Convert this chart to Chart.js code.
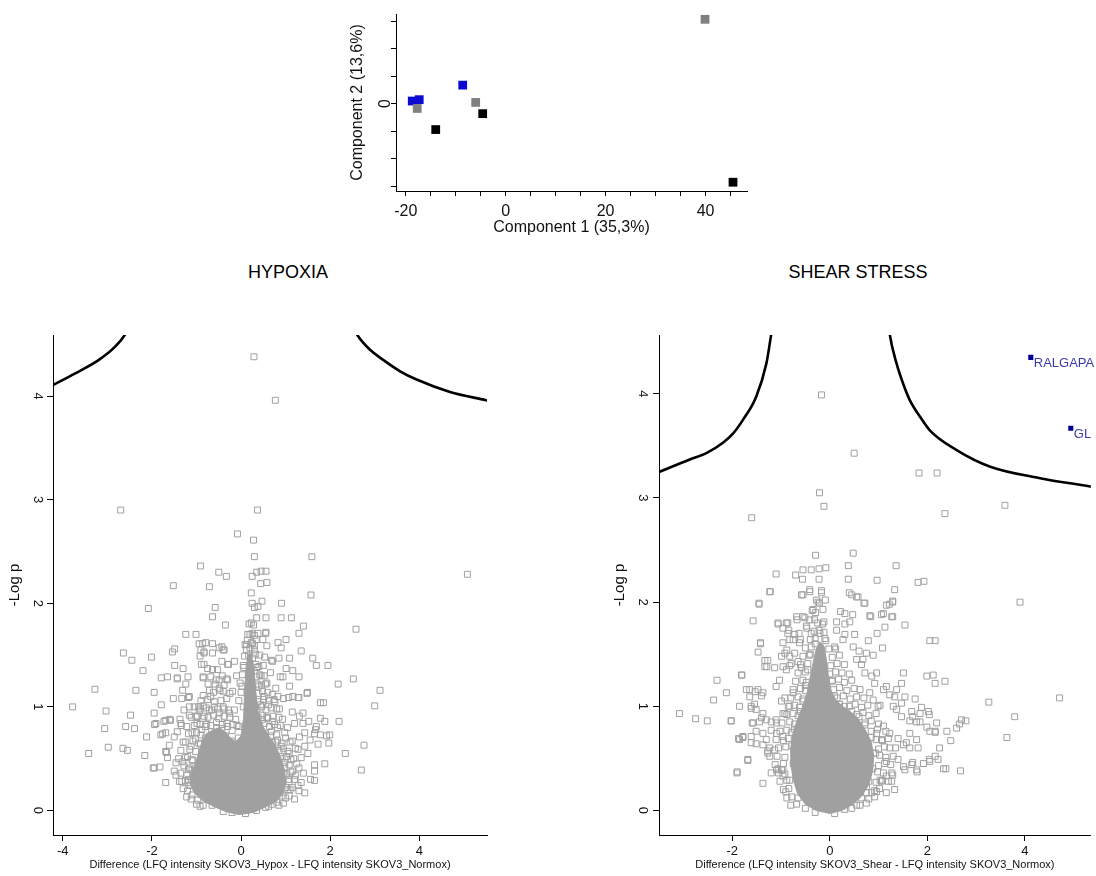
<!DOCTYPE html>
<html>
<head>
<meta charset="utf-8">
<script src="https://cdn.jsdelivr.net/npm/chart.js@4.4.1/dist/chart.umd.min.js"></script>
<style>
	html, body { margin: 0; padding: 0; background: #fff; width: 1096px; height: 876px; overflow: hidden; }
	canvas { position: absolute; }
	.panel-title { position: absolute; top: 262px; width: 300px; line-height: 20px; text-align: center;
		font: 18px "Liberation Sans", Arial, sans-serif; color: #000; }
</style>
</head>
<body>
<canvas id="pcaChart" width="420" height="240" style="left:340px;top:0"></canvas>
<div class="panel-title" style="left:138px">HYPOXIA</div>
<div class="panel-title" style="left:708px">SHEAR STRESS</div>
<canvas id="hypoxChart" width="500" height="556" style="left:0;top:320px"></canvas>
<canvas id="shearChart" width="496" height="556" style="left:600px;top:320px"></canvas>
<script>
/* ==========================
   DATA
========================== */

// PCA scores (component 1, component 2)
const pcaBlue = [[-18.7, 1.0], [-17.3, 1.5], [-8.6, 6.8]];
const pcaGray = [[-17.7, -1.7], [-6.0, 0.5], [39.9, 30.8]];
const pcaBlack = [[-14.0, -9.4], [-4.6, -3.6], [45.5, -28.6]];
const pcaXTicks = [-20, -15, -10, -5, 0, 5, 10, 15, 20, 25, 30, 35, 40, 45];
const pcaYTicks = [-30, -20, -10, 0, 10, 20, 30];

// volcano ticks
const hypoxXTicks = [-4, -2, 0, 2, 4];
const shearXTicks = [-2, 0, 2, 4];
const volcanoYTicks = [0, 1, 2, 3, 4];

// Hypoxia vs Normoxia: difference, -log p
const hypoxPoints = [
	[0.29,4.38],[0.77,3.96],[-2.70,2.90],[0.37,2.90],[-0.08,2.67],[0.28,2.61],[0.30,2.45],[1.59,2.45],
	[-0.91,2.36],[-0.50,2.30],[-0.33,2.26],[0.25,2.26],[0.35,2.30],[0.45,2.31],[0.56,2.31],[5.08,2.28],
	[-1.52,2.17],[-0.71,2.16],[0.44,2.19],[0.58,2.20],[1.57,2.08],[0.23,2.10],[-2.08,1.95],[-0.58,1.96],
	[-0.64,1.87],[0.25,2.00],[0.30,1.96],[0.38,1.97],[0.47,2.02],[0.91,2.00],[-0.35,1.79],[0.23,1.81],
	[0.35,1.86],[0.56,1.86],[0.90,1.86],[1.13,1.86],[1.40,1.78],[2.58,1.75],[-1.24,1.70],[-1.01,1.70],
	[1.30,1.71],[0.15,1.70],[0.25,1.71],[0.38,1.71],[0.56,1.72],[1.01,1.65],[0.83,1.62],[-0.86,1.61],
	[-0.79,1.62],[0.14,1.64],[0.23,1.62],[0.34,1.65],[0.49,1.65],[0.58,1.59],[-1.49,1.56],[-1.54,1.53],
	[-0.43,1.58],[-0.38,1.55],[-0.90,1.55],[-0.83,1.52],[0.90,1.57],[1.35,1.54],[-2.64,1.52],[-2.45,1.45],
	[-2.01,1.48],[-2.20,1.35],[-0.92,1.49],[-0.64,1.52],[0.17,1.50],[0.26,1.47],[0.53,1.48],[0.68,1.45],
	[0.85,1.47],[1.09,1.47],[1.61,1.47],[1.69,1.40],[1.95,1.40],[-1.49,1.40],[-1.30,1.37],[-0.83,1.41],
	[-0.75,1.37],[-0.30,1.41],[-0.15,1.44],[1.01,1.37],[1.16,1.35],[1.30,1.29],[2.18,1.22],[2.52,1.27],
	[3.12,1.16],[3.00,1.01],[-1.79,1.28],[-1.65,1.29],[-1.43,1.28],[-1.19,1.29],[-0.85,1.29],[-0.68,1.29],
	[-0.49,1.26],[-0.32,1.27],[0.88,1.29],[-3.28,1.17],[-2.36,1.16],[-1.95,1.14],[-1.52,1.08],[-1.31,1.16],
	[-1.16,1.10],[-0.85,1.11],[-0.71,1.16],[-0.47,1.16],[-0.19,1.15],[1.09,1.20],[1.16,1.10],[1.30,1.09],
	[1.49,1.14],[1.78,1.04],[1.85,1.04],[1.07,1.09],[0.83,1.10],[0.94,1.29],[0.71,1.44],[0.55,1.71],
	[-3.78,1.00],[-3.03,0.96],[-1.79,1.02],[-2.48,0.92],[-1.95,0.94],[-1.91,0.84],[-1.73,0.86],[-1.60,0.88],
	[-1.37,0.88],[-1.34,0.82],[1.39,0.94],[1.52,0.86],[1.78,0.89],[1.88,0.86],[2.20,0.86],[1.39,0.84],
	[1.67,0.78],[1.65,0.74],[1.78,0.73],[1.99,0.73],[1.31,0.91],[1.15,0.95],[1.20,0.84],[-3.06,0.79],
	[-2.59,0.81],[-2.39,0.79],[-1.94,0.83],[-2.12,0.71],[-1.76,0.74],[-1.80,0.73],[-1.69,0.75],[-2.98,0.61],
	[-2.65,0.60],[-2.55,0.58],[-3.42,0.55],[-2.16,0.53],[-1.97,0.41],[-1.82,0.42],[-1.69,0.27],[-1.67,0.56],
	[-1.61,0.63],[-1.69,0.57],[-1.65,0.51],[-1.46,0.46],[-1.46,0.34],[-1.95,0.41],[-0.71,0.10],[-0.56,0.07],
	[-1.43,1.27],[-1.24,1.22],[-1.33,1.08],[-1.18,1.09],[-1.58,0.87],[-1.35,0.84],[-1.43,0.76],[-1.69,0.87],
	[-1.50,0.71],[-1.31,0.47],[-1.50,0.38],[-1.33,0.28],[-1.18,0.30],[-1.10,0.39],[-0.94,1.61],[-0.83,1.53],
	[-0.89,1.41],[-0.85,1.28],[-0.74,1.22],[-0.68,1.10],[-0.53,1.36],[-0.43,1.44],[-0.49,1.57],[-0.40,1.55],
	[-0.28,1.41],[-0.30,1.26],[-0.49,1.18],[-0.56,1.26],[-0.64,1.36],[-0.64,1.61],[-0.10,1.30],[-0.95,1.00],
	[-1.16,1.00],[-1.01,0.91],[-0.85,1.01],[2.76,0.63],[2.34,0.55],[1.88,0.45],[1.65,0.44],[1.65,0.38],
	[2.70,0.39],[1.56,0.30],[1.65,0.29],[1.43,0.17],[1.28,0.24],[1.50,0.55],[1.43,0.62],[1.31,0.71],
	[1.43,0.75],[1.55,0.68],[1.73,0.64],[1.97,0.65],[1.92,0.72],[1.69,0.81],[1.48,1.13],[1.28,1.09],
	[-1.28,0.97],[-1.16,0.92],[-1.05,1.00],[-0.94,0.96],[-0.83,0.91],[-0.71,0.97],[-0.60,1.00],[-0.49,0.94],
	[-0.38,0.98],[-0.26,0.94],[-0.15,0.97],[-1.22,0.81],[-1.10,0.75],[-0.99,0.84],[-0.88,0.78],[-0.77,0.83],
	[-0.66,0.76],[-0.55,0.85],[-0.43,0.79],[-0.32,0.84],[-0.20,0.77],[-0.09,0.82],[-1.25,0.66],[-1.12,0.62],
	[-1.02,0.69],[-0.91,0.64],[-0.80,0.70],[-0.69,0.66],[-0.58,0.71],[-0.47,0.68],[-0.35,0.72],[-0.22,0.67],
	[-0.06,0.70],[-1.20,0.52],[-1.08,0.48],[-1.18,0.40],[-1.06,0.34],[-1.14,0.24],[-1.10,0.15],[-0.97,0.10],
	[-0.85,0.05],[0.05,1.00],[0.02,1.20],[0.06,1.38],[0.12,1.55],[0.30,1.55],[0.36,1.38],[0.40,1.20],
	[0.44,1.02],[0.48,0.88],[0.09,1.60],[0.20,1.57],[0.45,1.30],[0.55,1.22],[0.66,1.33],[0.78,1.18],
	[0.52,1.10],[0.62,1.02],[0.74,1.07],[0.86,0.98],[0.95,1.08],[0.58,0.90],[0.70,0.86],[0.82,0.80],
	[0.93,0.88],[1.04,0.80],[0.66,0.72],[0.78,0.66],[0.90,0.62],[1.00,0.70],[1.10,0.66],[0.88,0.52],
	[0.98,0.46],[1.08,0.55],[1.18,0.50],[0.96,0.36],[1.06,0.30],[1.16,0.38],[1.00,0.22],[0.92,0.14],
	[1.10,0.20],[0.80,0.08],[0.62,0.04],[1.22,0.60],[1.25,0.45],[-0.40,-0.01],[-0.20,-0.02],[0.10,-0.03],
	[0.35,0.00],[0.55,0.03],[-0.65,0.05],
	[-1.00,0.06],[-0.92,0.04],[0.70,0.06],[0.85,0.05],[0.95,0.07],[-1.22,0.13],[-1.12,0.11],[1.00,0.12],
	[1.08,0.14],[1.20,0.11],[-1.30,0.21],[-1.20,0.19],[1.05,0.20],[1.15,0.22],[1.30,0.19],[-1.38,0.28],
	[-1.25,0.29],[-1.18,0.27],[1.08,0.28],[1.20,0.30],[1.35,0.27],[-1.35,0.36],[-1.22,0.34],[1.02,0.35],
	[1.12,0.37],[1.22,0.34],[1.40,0.36],[-1.28,0.43],[-1.15,0.41],[0.98,0.42],[1.08,0.44],[1.30,0.41],
	[-1.40,0.50],[-1.25,0.51],[-1.10,0.49],[0.92,0.50],[1.02,0.52],[1.12,0.49],[1.35,0.51],[-1.35,0.58],
	[-1.15,0.59],[-1.02,0.57],[0.85,0.58],[0.95,0.60],[1.05,0.57],[1.28,0.59],[-1.30,0.66],[-1.08,0.67],
	[-0.95,0.65],[0.70,0.66],[0.82,0.68],[0.92,0.65],[1.15,0.67],[-1.18,0.74],[-1.00,0.75],[-0.90,0.73],
	[0.55,0.74],[0.68,0.76],[0.80,0.73],[0.98,0.75],[-1.05,0.82],[-0.92,0.83],[-0.80,0.81],[-0.68,0.82],
	[-0.55,0.80],[-0.42,0.83],[-0.30,0.81],[-0.18,0.83],[-0.05,0.81],[0.42,0.82],[0.52,0.84],[0.64,0.81],
	[0.75,0.83],[0.88,0.82],[-1.12,0.90],[-0.98,0.91],[-0.86,0.89],[-0.74,0.90],[-0.62,0.92],[-0.50,0.89],
	[-0.38,0.91],[-0.25,0.90],[-0.12,0.88],[0.38,0.90],[0.48,0.92],[0.60,0.89],[0.72,0.91],[0.85,0.90],
	[-0.92,0.98],[-0.78,0.99],[-0.66,0.97],[-0.52,0.98],[-0.40,1.00],[-0.28,0.97],[0.36,0.98],[0.46,1.00],
	[0.56,0.97],[0.68,0.99],[0.80,0.98],[-0.90,1.06],[-0.75,1.07],[-0.60,1.05],[-0.45,1.06],[-0.32,1.08],
	[-0.05,1.06],[0.38,1.05],[0.50,1.07],[0.62,1.06],[0.76,1.05],[-0.62,1.14],[-0.40,1.15],[-0.25,1.13],
	[0.00,1.14],[0.38,1.13],[0.48,1.15],[0.60,1.14],[0.70,1.12],[-0.58,1.22],[-0.38,1.21],[-0.02,1.23],
	[0.36,1.22],[0.46,1.21],[0.58,1.23],[-0.42,1.30],[0.03,1.31],[0.35,1.29],[0.42,1.31],[0.52,1.30],
	[0.05,1.40],[0.33,1.41],[0.40,1.39],[0.50,1.40],[0.08,1.49],[0.32,1.51],[0.42,1.50],[0.12,1.60],
	[0.26,1.61],[0.30,1.59],[0.20,1.70],[0.30,1.69],[0.18,1.80],[0.28,1.79]
];
// saturated centre of the hypoxia cloud
const hypoxCore = [
	[-0.05,-0.04],[-0.35,-0.01],[-0.62,0.04],[-0.88,0.10],[-1.05,0.17],[-1.15,0.26],[-1.12,0.36],
	[-1.02,0.46],[-0.95,0.56],[-0.88,0.66],[-0.78,0.74],[-0.62,0.78],[-0.48,0.80],[-0.36,0.76],
	[-0.24,0.70],[-0.12,0.66],[0.00,0.72],[0.06,0.90],[0.08,1.15],[0.11,1.35],[0.15,1.50],[0.22,1.52],
	[0.29,1.38],[0.33,1.15],[0.38,0.95],[0.48,0.82],[0.62,0.72],[0.78,0.62],[0.90,0.50],[0.98,0.38],
	[1.00,0.26],[0.94,0.16],[0.80,0.09],[0.58,0.04],[0.28,-0.02],[-0.05,-0.04]
];
const hypoxCurveLeft = [[-4.25,4.10],[-3.72,4.22],[-3.19,4.35],[-2.82,4.48],[-2.61,4.59],[-2.53,4.66]];
const hypoxCurveRight = [[2.53,4.66],[2.61,4.59],[2.89,4.45],[3.19,4.35],[3.57,4.24],[3.94,4.16],[4.69,4.04],[5.50,3.96],[5.60,3.95]];

// Shear stress vs Normoxia: difference, -log p
const shearPoints = [
	[-0.17,3.99],[0.50,3.43],[1.83,3.24],[2.20,3.24],[-0.21,3.05],[-0.12,2.92],[-1.60,2.81],[2.36,2.85],
	[3.59,2.93],[-0.29,2.45],[0.48,2.47],[-1.10,2.27],[-0.70,2.26],[-0.55,2.31],[-0.38,2.31],[-0.22,2.32],
	[-0.08,2.33],[0.38,2.35],[1.36,2.35],[-0.56,2.22],[-0.22,2.22],[0.38,2.22],[0.97,2.21],[1.81,2.19],
	[1.93,2.20],[-1.22,2.10],[-0.58,2.07],[-0.41,2.12],[-0.17,2.11],[-0.09,2.02],[-0.24,2.00],[0.40,2.09],
	[0.58,2.05],[0.72,1.99],[1.33,2.12],[-1.45,1.99],[1.22,1.98],[1.29,2.01],[-0.36,1.92],[-0.29,1.90],
	[0.22,1.91],[0.31,1.89],[0.47,1.88],[0.84,1.86],[1.06,1.88],[1.29,1.86],[-1.57,1.82],[-1.06,1.80],
	[-0.86,1.80],[-0.67,1.83],[-0.51,1.85],[-0.12,1.81],[0.14,1.81],[0.31,1.79],[1.54,1.78],[1.13,1.76],
	[0.97,1.70],[0.79,1.63],[2.05,1.63],[2.16,1.63],[-1.42,1.60],[-1.47,1.52],[-0.96,1.75],[-0.86,1.70],
	[-0.75,1.64],[-0.63,1.70],[-0.60,1.64],[-0.47,1.75],[-0.38,1.70],[0.14,1.73],[0.31,1.69],[0.12,1.55],
	[0.27,1.64],[0.48,1.57],[1.08,1.56],[0.89,1.49],[0.68,1.45],[-1.33,1.44],[-1.29,1.38],[-0.96,1.38],
	[-0.82,1.39],[-1.81,1.30],[-1.71,1.16],[-1.64,1.09],[-1.47,1.16],[-1.40,1.10],[-1.85,1.00],[-1.61,0.98],
	[-1.54,1.02],[-2.02,0.86],[-1.85,0.68],[-1.78,0.71],[-1.68,0.49],[-1.90,0.37],[-1.37,0.26],[-1.20,0.36],
	[-1.06,0.40],[-0.96,0.39],[-0.90,0.18],[-1.10,0.87],[-1.20,0.77],[-1.30,0.68],[-1.27,0.55],[-1.13,0.58],
	[-0.99,1.05],[-0.92,0.93],[-1.40,0.89],[-1.37,0.93],[-1.59,0.84],[-1.51,0.76],[-1.37,0.74],[-1.23,0.60],
	[-1.10,1.19],[-1.03,1.25],[-0.82,1.48],[-0.72,1.51],[-0.65,1.43],[-0.58,1.37],[-0.92,1.51],[-0.88,1.54],
	[1.51,1.32],[1.47,1.22],[1.99,1.29],[2.12,1.30],[2.16,1.22],[2.36,1.24],[1.75,1.07],[1.88,0.99],
	[2.02,0.95],[1.70,0.90],[1.64,0.86],[1.78,0.85],[1.99,0.80],[2.16,0.75],[1.64,0.74],[1.78,0.68],
	[1.51,0.63],[1.64,0.60],[1.81,0.60],[1.40,0.49],[1.51,0.42],[1.70,0.46],[1.78,0.39],[1.92,0.45],
	[2.05,0.47],[2.22,0.49],[1.33,0.20],[0.96,0.18],[0.75,0.17],[0.55,0.05],[1.06,0.28],[1.16,0.33],
	[1.27,0.36],[0.96,0.74],[1.06,0.68],[1.23,0.60],[1.37,0.97],[1.47,0.90],[1.54,1.09],[0.82,1.13],
	[0.89,1.06],[0.99,1.00],[1.16,1.19],[1.33,1.09],[0.72,1.32],[0.86,1.29],[0.96,1.32],[0.55,1.45],
	[0.65,1.40],[0.75,1.51],[3.90,2.00],[4.71,1.08],[3.26,1.04],[3.79,0.90],[3.63,0.70],[1.27,1.86],
	[1.85,0.93],[2.04,0.92],[2.19,0.84],[2.40,0.76],[2.48,0.67],[2.60,0.79],[2.66,0.83],[2.70,0.87],
	[2.79,0.86],[2.33,0.40],[2.38,0.40],[2.68,0.38],[2.04,0.49],[2.16,0.52],[2.25,0.60],[1.79,0.37],
	[1.68,0.44],[1.54,0.39],[1.27,0.28],[2.05,0.76],[2.16,0.76],[1.85,0.85],[0.82,1.87],[1.10,1.89],
	[1.16,1.97],[1.29,2.00],[0.70,1.99],[0.55,2.05],[0.45,2.07],[0.41,1.81],[0.51,1.69],[0.60,1.53],
	[0.92,1.22],[1.10,1.16],[1.23,1.11],[1.37,1.16],[1.03,1.01],[1.30,1.00],[1.47,1.03],[1.68,0.95],
	[1.10,0.81],[1.23,0.74],[1.40,0.69],[1.57,0.65],[0.94,0.55],[1.16,0.47],[1.29,0.34],[1.03,0.29],
	[1.16,0.17],[0.86,0.17],[0.75,0.23],[-1.23,2.10],[-2.31,1.25],[-1.80,1.30],[-2.12,1.13],[-2.38,1.06],
	[-1.64,1.16],[-1.53,1.14],[-1.37,1.13],[-1.61,1.00],[-1.51,0.97],[-3.08,0.93],[-2.75,0.88],[-2.51,0.86],
	[-2.02,0.86],[-1.57,0.84],[-1.44,0.85],[-1.30,0.87],[-1.20,0.85],[-1.87,0.69],[-1.78,0.70],[-1.61,0.71],
	[-1.61,0.65],[-1.51,0.64],[-1.37,0.63],[-1.68,0.48],[-1.27,0.57],[-1.23,0.52],[-1.90,0.36],[-1.09,0.39],
	[-0.99,0.39],[-0.96,0.33],[-0.82,0.29],[-1.09,0.74],[-0.96,0.71],[-1.09,0.84],[-0.96,0.93],[-0.82,1.00],
	[-0.92,1.08],[-0.75,1.13],[-0.89,1.35],[-0.79,1.41],[-0.99,1.48],[-0.96,1.61],[-0.82,1.64],[-0.72,1.69],
	[-0.62,1.61],[-0.55,1.86],[-0.41,1.83],[-0.48,1.77],[-0.68,1.86],[-0.55,2.07],[-0.41,2.10],[-0.17,2.09],
	[-0.27,2.02],[-0.34,1.93],[-0.21,1.99],[-0.14,1.93],[-0.31,1.83],[-1.45,1.98],[-1.06,1.79],[-0.89,1.80],
	[-0.84,1.73],[-1.42,1.61],[-1.27,1.44],[-1.33,1.38],[-1.13,1.37],[-0.20,1.70],[-0.10,1.65],[-0.30,1.60],
	[-0.40,1.50],[-0.45,1.35],[-0.50,1.20],[-0.55,1.05],[-0.60,0.95],[0.05,1.25],[0.10,1.10],[0.20,1.02],
	[0.30,1.00],[0.45,0.95],[0.60,0.90],[0.72,0.82],[0.85,0.70],[0.90,0.55],[0.88,0.40],[0.80,0.28],
	[0.65,0.12],[-0.75,0.45],[-0.78,0.62],[-0.72,0.78],[-0.65,0.12],[-0.50,0.02],[-0.30,-0.02],[0.10,-0.03],
	[0.30,0.01],[0.45,0.02],
	[-0.80,0.05],[-0.68,0.06],[0.62,0.05],[0.75,0.07],[-0.88,0.12],[-0.78,0.13],[0.80,0.11],[0.92,0.13],
	[-0.95,0.20],[-0.84,0.21],[0.92,0.19],[1.02,0.21],[-1.02,0.28],[-0.88,0.29],[0.95,0.27],[1.08,0.29],
	[1.20,0.28],[-1.05,0.36],[-0.92,0.35],[0.98,0.37],[1.10,0.36],[-1.12,0.44],[-0.95,0.45],[1.00,0.43],
	[1.12,0.45],[1.25,0.44],[-1.08,0.52],[-0.92,0.51],[1.02,0.53],[1.15,0.51],[1.30,0.52],[-1.05,0.60],
	[-0.90,0.61],[1.00,0.59],[1.12,0.61],[1.35,0.60],[-1.10,0.68],[-0.95,0.67],[-0.85,0.69],[0.95,0.68],
	[1.08,0.67],[1.20,0.69],[-1.02,0.76],[-0.88,0.77],[-0.78,0.75],[0.85,0.76],[0.98,0.78],[1.15,0.76],
	[-0.98,0.84],[-0.82,0.85],[-0.72,0.83],[0.72,0.84],[0.85,0.86],[1.00,0.83],[-0.88,0.92],[-0.75,0.93],
	[-0.65,0.91],[0.55,0.92],[0.68,0.94],[0.80,0.91],[0.95,0.93],[-0.85,1.00],[-0.72,1.01],[-0.62,0.99],
	[0.40,1.00],[0.52,1.02],[0.65,0.99],[0.78,1.01],[-0.80,1.08],[-0.65,1.09],[-0.55,1.07],[0.15,1.08],
	[0.28,1.10],[0.42,1.07],[0.55,1.09],[0.70,1.08],[-0.75,1.16],[-0.60,1.17],[-0.50,1.15],[0.08,1.16],
	[0.20,1.18],[0.35,1.15],[0.50,1.17],[0.62,1.16],[-0.70,1.24],[-0.55,1.25],[-0.48,1.23],[0.05,1.24],
	[0.18,1.26],[0.30,1.23],[0.45,1.25],[-0.65,1.32],[-0.50,1.33],[0.00,1.31],[0.12,1.33],[0.25,1.32],
	[0.40,1.31],[-0.60,1.40],[-0.45,1.41],[0.02,1.39],[0.15,1.41],[0.30,1.40],[-0.55,1.48],[-0.42,1.49],
	[0.05,1.47],[0.20,1.49],[-0.50,1.56],[-0.38,1.57],[-0.02,1.55],[0.10,1.57],[-0.40,1.64],[-0.30,1.65],
	[-0.08,1.63],[-0.32,1.72],[-0.22,1.73],[-0.12,1.71],[-0.25,1.80],[-0.15,1.79]
];
// saturated centre of the shear stress cloud
const shearCore = [
	[0.00,-0.03],[-0.28,0.00],[-0.50,0.06],[-0.66,0.16],[-0.75,0.30],[-0.80,0.45],[-0.80,0.60],
	[-0.75,0.75],[-0.66,0.88],[-0.55,1.00],[-0.46,1.14],[-0.40,1.28],[-0.34,1.42],[-0.28,1.55],
	[-0.20,1.62],[-0.12,1.58],[-0.07,1.45],[-0.03,1.30],[0.02,1.16],[0.12,1.06],[0.26,1.00],
	[0.42,0.95],[0.58,0.88],[0.72,0.78],[0.85,0.66],[0.90,0.52],[0.88,0.38],[0.80,0.25],
	[0.66,0.14],[0.48,0.06],[0.25,0.00],[0.00,-0.03]
];
const shearCurveLeft = [[-3.55,3.24],[-2.87,3.37],[-2.53,3.43],[-2.19,3.53],[-1.98,3.62],[-1.78,3.75],[-1.51,3.97],[-1.30,4.29],[-1.20,4.57],[-1.17,4.65]];
const shearCurveRight = [[1.21,4.65],[1.23,4.57],[1.37,4.29],[1.51,4.09],[1.64,3.94],[1.85,3.78],[2.05,3.65],[2.60,3.46],[3.29,3.30],[4.31,3.19],[5.34,3.11],[5.45,3.10]];
const shearHits = [[4.12, 4.35], [4.94, 3.67]];
const shearHitLabels = ["RALGAPA", "GL"];

/* ==========================
   CHARTS
========================== */

Chart.defaults.font.family = '"Liberation Sans", Arial, sans-serif';
Chart.defaults.color = "#111";
Chart.defaults.animation = false;

const toXY = (pairs) => pairs.map(([x, y]) => ({ x, y }));
const fixedTicks = (values) => (axis) => { axis.ticks = values.map((value) => ({ value })); };

const hitLabelPlugin = {
	id: "hitLabels",
	afterDatasetsDraw(chart, args, opts) {
		if (!opts.points) return;
		const { ctx, scales: { x, y } } = chart;
		ctx.save();
		ctx.font = '13px "Liberation Sans", Arial, sans-serif';
		ctx.fillStyle = "#3a3aae";
		ctx.textBaseline = "top";
		opts.points.forEach((p, i) => {
			ctx.fillText(opts.labels[i], x.getPixelForValue(p[0]) + 3, y.getPixelForValue(p[1]));
		});
		ctx.restore();
	}
};

function pcaSet(points, color) {
	return {
		data: toXY(points),
		pointStyle: "rect",
		pointRadius: 6.2,
		pointBorderWidth: 0,
		pointBackgroundColor: color,
		pointBorderColor: color
	};
}

new Chart(document.getElementById("pcaChart"), {
	type: "scatter",
	data: {
		datasets: [
			pcaSet(pcaGray, "#808080"),
			pcaSet(pcaBlack, "#000000"),
			pcaSet(pcaBlue, "#0a0ad2")
		]
	},
	options: {
		responsive: false,
		events: [],
		layout: { padding: { left: 0, right: 13, top: 12, bottom: 0 } },
		plugins: { legend: { display: false }, tooltip: { enabled: false } },
		scales: {
			x: {
				min: -21.95, max: 48.3,
				afterBuildTicks: fixedTicks(pcaXTicks),
				afterFit: (axis) => { axis.height = 49; },
				border: { color: "#000", width: 1 },
				grid: { drawOnChartArea: false, tickLength: 5, tickColor: "#000" },
				ticks: { autoSkip: false, maxRotation: 0, padding: 6, font: { size: 16 }, color: "#111",
					callback: (v) => (v % 20 === 0 ? String(v) : "") },
				title: { display: true, text: "Component 1 (35,3%)", font: { size: 16 }, color: "#111", padding: { top: 0, bottom: 2.4 } }
			},
			y: {
				min: -31.8, max: 32.7,
				afterBuildTicks: fixedTicks(pcaYTicks),
				afterFit: (axis) => { axis.width = 56; },
				border: { color: "#000", width: 1 },
				grid: { drawOnChartArea: false, tickLength: 5, tickColor: "#000" },
				ticks: { autoSkip: false, minRotation: -90, maxRotation: -90, crossAlign: "center", padding: 4.5,
					font: { size: 16 }, color: "#111", callback: (v) => (v === 0 ? "0" : "") },
				title: { display: true, text: "Component 2 (13,6%)", font: { size: 16 }, color: "#111", padding: { top: 8.4, bottom: 0 } }
			}
		}
	}
});

function volcanoChart(canvasId, cfg) {
	const gray = "#a0a0a0";
	const curve = (pts) => ({
		data: toXY(pts),
		showLine: true,
		pointRadius: 0,
		borderColor: "#000",
		borderWidth: 2.6,
		cubicInterpolationMode: "monotone",
		order: 0
	});
	const datasets = [
		{
			data: toXY(cfg.core),
			showLine: true,
			fill: "shape",
			pointRadius: 0,
			borderColor: gray,
			backgroundColor: gray,
			borderWidth: 1,
			tension: 0,
			order: 3
		},
		{
			data: toXY(cfg.points),
			pointStyle: "rect",
			pointRadius: 4.2,
			pointBorderWidth: 1,
			pointBorderColor: gray,
			pointBackgroundColor: "rgba(0,0,0,0)",
			order: 2
		},
		curve(cfg.curveLeft),
		curve(cfg.curveRight)
	];
	if (cfg.hits) {
		datasets.push({
			data: toXY(cfg.hits),
			pointStyle: "rect",
			pointRadius: 3.6,
			pointBorderWidth: 0,
			pointBackgroundColor: "#00009a",
			order: 1
		});
	}

	new Chart(document.getElementById(canvasId), {
		type: "scatter",
		data: { datasets },
		plugins: [hitLabelPlugin],
		options: {
			responsive: false,
			events: [],
			layout: { padding: { left: 0, right: cfg.padRight, top: 15, bottom: 0 } },
			plugins: {
				legend: { display: false },
				tooltip: { enabled: false },
				hitLabels: { points: cfg.hits, labels: cfg.hitLabels }
			},
			scales: {
				x: {
					min: cfg.xMin, max: cfg.xMax,
					afterBuildTicks: fixedTicks(cfg.xTicks),
					afterFit: (axis) => { axis.height = 41; },
					border: { color: "#000", width: 1 },
					grid: { drawOnChartArea: false, tickLength: 6, tickColor: "#000" },
					ticks: { autoSkip: false, maxRotation: 0, padding: 3, font: { size: 13 }, color: "#111",
						callback: (v) => String(v) },
					title: { display: true, text: cfg.xTitle, font: { size: 11 }, color: "#111", padding: { top: 0, bottom: 4.4 } }
				},
				y: {
					min: cfg.yMin, max: cfg.yMax,
					afterBuildTicks: fixedTicks(volcanoYTicks),
					afterFit: (axis) => { axis.width = cfg.yWidth; },
					border: { color: "#000", width: 1 },
					grid: { drawOnChartArea: false, tickLength: 6, tickColor: "#000" },
					ticks: { autoSkip: false, minRotation: -90, maxRotation: -90, crossAlign: "center",
						padding: cfg.yTickPad, font: { size: 13 }, color: "#111", callback: (v) => String(v) },
					title: { display: true, text: "-Log p", font: { size: 15 }, color: "#111",
						padding: { top: cfg.yTitlePad, bottom: 0 } }
				}
			}
		}
	});
}

volcanoChart("hypoxChart", {
	points: hypoxPoints,
	core: hypoxCore,
	curveLeft: hypoxCurveLeft,
	curveRight: hypoxCurveRight,
	xMin: -4.22, xMax: 5.52, yMin: -0.237, yMax: 4.59,
	xTicks: hypoxXTicks,
	xTitle: "Difference (LFQ intensity SKOV3_Hypox - LFQ intensity SKOV3_Normox)",
	padRight: 13, yWidth: 53, yTickPad: 5.4, yTitlePad: 6
});

volcanoChart("shearChart", {
	points: shearPoints,
	core: shearCore,
	curveLeft: shearCurveLeft,
	curveRight: shearCurveRight,
	hits: shearHits,
	hitLabels: shearHitLabels,
	xMin: -3.5, xMax: 5.35, yMin: -0.236, yMax: 4.565,
	xTicks: shearXTicks,
	xTitle: "Difference (LFQ intensity SKOV3_Shear - LFQ intensity SKOV3_Normox)",
	padRight: 5, yWidth: 59, yTickPad: 6.4, yTitlePad: 11
});
</script>
</body>
</html>
